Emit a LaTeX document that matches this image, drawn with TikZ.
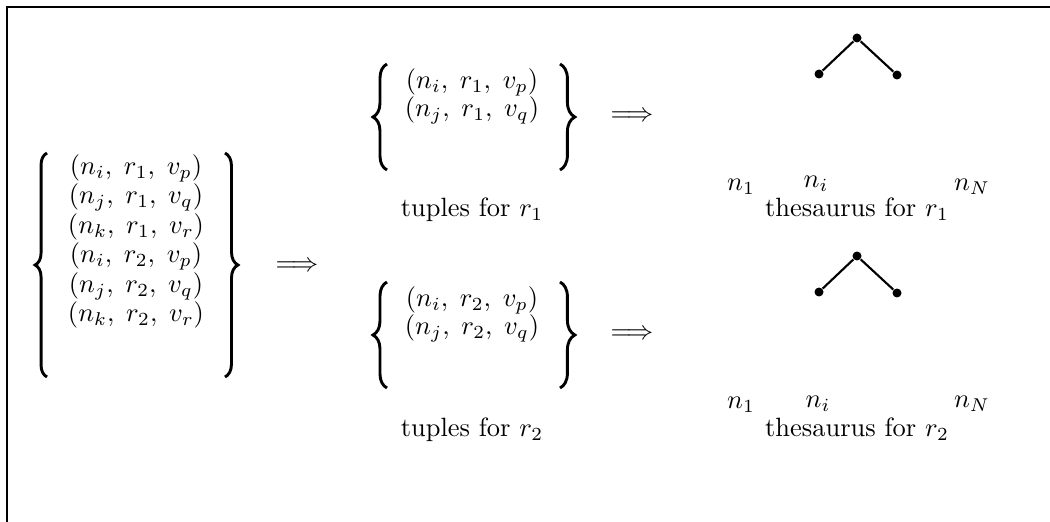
\documentclass[tikz,border=0pt]{standalone}
\usetikzlibrary{decorations.pathreplacing}
\begin{document}
\begin{tikzpicture}[x=0.378pt,y=-0.378pt,
  tuple/.style={inner sep=0pt},
  caption/.style={inner sep=0pt},
  implies/.style={inner sep=0pt},
  leaf/.style={inner sep=0pt},
  bracepath/.style={decorate, decoration={brace, amplitude=#1}, line width=1.1pt},
  dot/.style={circle, fill=black, inner sep=0pt, minimum size=3.4pt},
  edge/.style={line width=0.8pt},
  frame/.style={line width=0.8pt}]
\useasboundingbox (0,0) rectangle (1050,522);

% open frame: top and left rules
\coordinate (fTR) at (1050,7);
\coordinate (fTL) at (7,7);
\coordinate (fBL) at (7,522);
\draw[frame] (fTR) -- (fTL) -- (fBL);

% all tuples
\node[tuple] (a1) at (136,168) {$(n_i,\; r_1,\; v_p)$};
\node[tuple] (a2) at (136,197) {$(n_j,\; r_1,\; v_q)$};
\node[tuple] (a3) at (136,227) {$(n_k,\; r_1,\; v_r)$};
\node[tuple] (a4) at (136,256) {$(n_i,\; r_2,\; v_p)$};
\node[tuple] (a5) at (136,286) {$(n_j,\; r_2,\; v_q)$};
\node[tuple] (a6) at (136,315) {$(n_k,\; r_2,\; v_r)$};
\coordinate (aLt) at (47,153);  \coordinate (aLb) at (47,377);
\coordinate (aRt) at (225,153); \coordinate (aRb) at (225,377);
\draw[bracepath=4.5pt] (aLb) -- (aLt);
\draw[bracepath=4.9pt] (aRt) -- (aRb);
\node[implies] (split) at (297,267) {$\Longrightarrow$};

% tuples for r1
\node[tuple] (b1) at (472,82)  {$(n_i,\; r_1,\; v_p)$};
\node[tuple] (b2) at (472,110) {$(n_j,\; r_1,\; v_q)$};
\coordinate (bLt) at (387,64);  \coordinate (bLb) at (387,170);
\coordinate (bRt) at (560,64);  \coordinate (bRb) at (560,170);
\draw[bracepath=5.3pt] (bLb) -- (bLt);
\draw[bracepath=5.6pt] (bRt) -- (bRb);
\node[caption] (bcap) at (472,210) {tuples for $r_1$};
\node[implies] (build1) at (632,117) {$\Longrightarrow$};

% tuples for r2
\node[tuple] (c1) at (472,300) {$(n_i,\; r_2,\; v_p)$};
\node[tuple] (c2) at (472,328) {$(n_j,\; r_2,\; v_q)$};
\coordinate (cLt) at (387,282); \coordinate (cLb) at (387,388);
\coordinate (cRt) at (560,282); \coordinate (cRb) at (560,388);
\draw[bracepath=5.3pt] (cLb) -- (cLt);
\draw[bracepath=5.6pt] (cRt) -- (cRb);
\node[caption] (ccap) at (472,430) {tuples for $r_2$};
\node[implies] (build2) at (632,335) {$\Longrightarrow$};

% thesaurus for r1
\node[dot] (t1root) at (857,38) {};
\node[dot] (t1l) at (819,74) {};
\node[dot] (t1r) at (897,75) {};
\draw[edge] (t1l) -- (t1root) -- (t1r);
\node[leaf] (t1n1) at (741,187) {$n_1$};
\node[leaf] (t1ni) at (816,184) {$n_i$};
\node[leaf] (t1nN) at (972,187) {$n_N$};
\node[caption] (t1cap) at (857,209) {thesaurus for $r_1$};

% thesaurus for r2
\node[dot] (t2root) at (857,256) {};
\node[dot] (t2l) at (819,292) {};
\node[dot] (t2r) at (897,293) {};
\draw[edge] (t2l) -- (t2root) -- (t2r);
\node[leaf] (t2n1) at (741,405) {$n_1$};
\node[leaf] (t2ni) at (818,404) {$n_i$};
\node[leaf] (t2nN) at (972,404) {$n_N$};
\node[caption] (t2cap) at (857,429) {thesaurus for $r_2$};
\end{tikzpicture}
\end{document}
